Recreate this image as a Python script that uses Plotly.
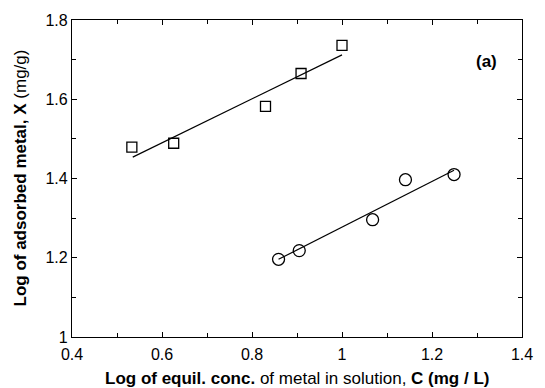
import plotly.graph_objects as go

# Data
sq_x = [0.533, 0.626, 0.830, 0.909, 1.000]
sq_y = [1.479, 1.489, 1.582, 1.665, 1.736]
sq_fit_x = [0.535, 1.000]
sq_fit_y = [1.454, 1.712]

ci_x = [0.859, 0.905, 1.068, 1.141, 1.249]
ci_y = [1.196, 1.218, 1.296, 1.397, 1.410]
ci_fit_x = [0.859, 1.249]
ci_fit_y = [1.196, 1.421]

x_ticks = [0.4, 0.6, 0.8, 1.0, 1.2, 1.4]
x_labels = ["0.4", "0.6", "0.8", "1", "1.2", "1.4"]
y_ticks = [1.0, 1.2, 1.4, 1.6, 1.8]
y_labels = ["1", "1.2", "1.4", "1.6", "1.8"]

FONT = "Liberation Sans, Arial, Helvetica, sans-serif"

fig = go.Figure()
fig.add_trace(go.Scatter(x=sq_fit_x, y=sq_fit_y, mode="lines",
                         line=dict(color="black", width=1.2), showlegend=False))
fig.add_trace(go.Scatter(x=ci_fit_x, y=ci_fit_y, mode="lines",
                         line=dict(color="black", width=1.2), showlegend=False))
fig.add_trace(go.Scatter(x=sq_x, y=sq_y, mode="markers",
                         marker=dict(symbol="square-open", size=10, color="black",
                                     line=dict(width=1.3)), showlegend=False))
fig.add_trace(go.Scatter(x=ci_x, y=ci_y, mode="markers",
                         marker=dict(symbol="circle-open", size=12, color="black",
                                     line=dict(width=1.3)), showlegend=False))

axis_common = dict(showgrid=False, zeroline=False, showline=True, linecolor="black",
                   linewidth=1.2, mirror="ticks", ticks="inside", ticklen=5,
                   tickcolor="black", tickwidth=1,
                   tickfont=dict(family=FONT, size=16, color="black"))

fig.update_xaxes(range=[0.4, 1.4], tickvals=x_ticks, ticktext=x_labels,
                 minor=dict(dtick=0.1, ticks="inside", ticklen=4, tickcolor="black"),
                 ticklabelstandoff=3,
                 **axis_common)
fig.update_yaxes(range=[1.0, 1.8], tickvals=y_ticks, ticktext=y_labels,
                 minor=dict(dtick=0.1, ticks="inside", ticklen=4, tickcolor="black"),
                 **axis_common)

fig.add_annotation(x=0.5, y=0, xref="paper", yref="paper", xanchor="center", yanchor="top",
                   yshift=-30, showarrow=False,
                   text="<b>Log of equil. conc.</b> of metal in solution, <b>C (mg / L)</b>",
                   font=dict(family=FONT, size=17, color="black"))
fig.add_annotation(x=0, y=0.5, xref="paper", yref="paper", xanchor="center", yanchor="middle",
                   xshift=-52, textangle=-90, showarrow=False,
                   text="<b>Log of adsorbed metal, X</b> (mg/g)",
                   font=dict(family=FONT, size=17, color="black"))
fig.add_annotation(x=0.92, y=0.87, xref="paper", yref="paper", text="<b>(a)</b>",
                   xanchor="center", yanchor="middle",
                   showarrow=False, font=dict(family=FONT, size=17, color="black"))

fig.update_layout(width=545, height=388, margin=dict(l=72, r=12, t=17, b=51),
                  plot_bgcolor="white", paper_bgcolor="white")

fig.write_html("out.html")
